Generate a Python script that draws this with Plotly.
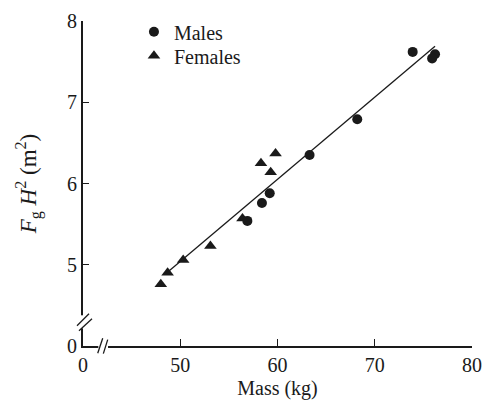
import plotly.graph_objects as go

# Data (broken axes: "0" drawn at x=40 and y=4)
male_mass = [56.9, 58.4, 59.2, 63.3, 68.2, 73.9, 76.2, 75.9]
male_fh2 = [5.54, 5.76, 5.88, 6.35, 6.79, 7.62, 7.59, 7.54]
female_mass = [59.8, 58.3, 59.3, 56.4, 53.1, 50.3, 48.7, 48.0]
female_fh2 = [6.37, 6.25, 6.14, 5.57, 5.23, 5.06, 4.90, 4.76]
fit_mass = [48.9, 76.2]
fit_fh2 = [4.93, 7.69]

x_tickvals = [40, 50, 60, 70, 80]
x_ticktext = ["0", "50", "60", "70", "80"]
y_tickvals = [4, 5, 6, 7, 8]
y_ticktext = ["0", "5", "6", "7", "8"]

FONT = "Liberation Serif, Times New Roman, serif"
INK = "#1a1a1a"

fig = go.Figure()
fig.add_trace(go.Scatter(x=fit_mass, y=fit_fh2, mode="lines",
                         line=dict(color=INK, width=1.3), showlegend=False, hoverinfo="skip"))
fig.add_trace(go.Scatter(x=male_mass, y=male_fh2, mode="markers", name="Males",
                         marker=dict(symbol="circle", size=10, color=INK), legend="legend"))
fig.add_trace(go.Scatter(x=female_mass, y=female_fh2, mode="markers", name="Females",
                         marker=dict(symbol="triangle-up", size=11, color=INK), legend="legend2"))

axis_common = dict(showline=True, linecolor=INK, linewidth=2, ticks="inside",
                   tickcolor=INK, tickwidth=1, showgrid=False, zeroline=False,
                   tickfont=dict(family=FONT, size=20, color=INK), mirror=False,
                   automargin=False)

fig.update_xaxes(range=[40, 80], tickvals=x_tickvals, ticktext=x_ticktext, ticklen=7,
                 title=dict(text="Mass (kg)", font=dict(family=FONT, size=20, color=INK), standoff=6),
                 **axis_common)
fig.update_yaxes(range=[4, 8], tickvals=y_tickvals, ticktext=y_ticktext, ticklen=6,
                 title=dict(text="<i>F</i><sub>g</sub> <i>H</i><sup>2</sup> (m<sup>2</sup>)",
                            font=dict(family=FONT, size=23, color=INK), standoff=24),
                 **axis_common)

PW, PH = 388.5, 325.0  # plot area in px
shapes = []
# y-axis break: white gap + two slashes
y_anchor = 24.2 / PH
shapes.append(dict(type="line", xref="paper", yref="paper", x0=0, x1=0,
                   y0=17.7 / PH, y1=30.7 / PH,
                   line=dict(color="white", width=5), layer="above"))
for (a, b, c, d) in [(-6, -4, 6, 8), (-4, -9, 9, 3)]:
    shapes.append(dict(type="line", xref="paper", yref="paper",
                       xsizemode="pixel", ysizemode="pixel", xanchor=0, yanchor=y_anchor,
                       x0=a, y0=b, x1=c, y1=d, line=dict(color=INK, width=1.3), layer="above"))
# x-axis break
x_anchor = 20 / PW
shapes.append(dict(type="line", xref="paper", yref="paper", y0=0, y1=0,
                   x0=15.3 / PW, x1=25 / PW,
                   line=dict(color="white", width=5), layer="above"))
for (a, b, c, d) in [(-5.3, -7.3, -0.3, 7.7), (0.3, -7.6, 4.7, 6.4)]:
    shapes.append(dict(type="line", xref="paper", yref="paper",
                       xsizemode="pixel", ysizemode="pixel", xanchor=x_anchor, yanchor=0,
                       x0=a, y0=b, x1=c, y1=d, line=dict(color=INK, width=1.3), layer="above"))

legend_common = dict(xanchor="left", yanchor="top",
                     font=dict(family=FONT, size=20, color=INK),
                     bgcolor="rgba(0,0,0,0)", itemwidth=30)

# page has an 8px body margin, so the figure is 16px smaller than the window
fig.update_layout(
    width=475, height=392,
    margin=dict(l=75, r=11, t=13, b=54, autoexpand=False),
    paper_bgcolor="white", plot_bgcolor="white",
    shapes=shapes,
    legend=dict(x=0.131, y=1.027, **legend_common),
    legend2=dict(x=0.131, y=0.953, **legend_common),
    font=dict(family=FONT, color=INK),
)

fig.write_html("out.html")
